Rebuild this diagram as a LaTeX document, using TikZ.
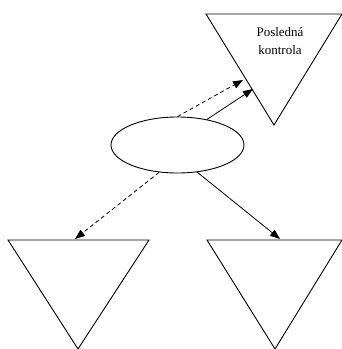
\documentclass[tikz,border=0pt]{standalone}
\usepackage{fontspec}
\setmainfont{Liberation Serif}
\usetikzlibrary{arrows.meta,shapes.geometric}
\begin{document}
\begin{tikzpicture}[x=1pt,y=1pt,
  shapeline/.style={draw=black,line width=0.9pt,line join=miter},
  conn/.style={draw=black,line width=0.8pt,-{Triangle[length=10pt,width=7.5pt]}},
  dconn/.style={conn,dash pattern=on 4pt off 3pt},
  lbl/.style={font=\fontsize{13}{18}\selectfont,align=center,inner sep=0pt}]
\useasboundingbox (0,0) rectangle (342,349);
% top-right triangle
\draw[shapeline] (206,335) -- (342,335) -- (274,224) -- cycle;
\node[lbl] (t1) at (280,308) {Posledná\\kontrola};
% bottom triangles
\draw[shapeline] (8,109) -- (149,109) -- (78,0) -- cycle;
\draw[shapeline] (207,109) -- (342,109) -- (275,0) -- cycle;
% ellipse
\node[shapeline,ellipse,minimum width=133pt,minimum height=56pt,inner sep=0pt] (e) at (177.5,204) {};
\coordinate (a1) at (243,269);
\coordinate (a2) at (253,260);
\coordinate (b1) at (75,110);
\coordinate (b2) at (280,110);
\draw[dconn] (e.north) -- (a1);
\draw[conn] (e.{41.6}) -- (a2);
\draw[dconn] (e.{-124.5}) -- (b1);
\draw[conn] (e.{-54}) -- (b2);
\end{tikzpicture}
\end{document}
